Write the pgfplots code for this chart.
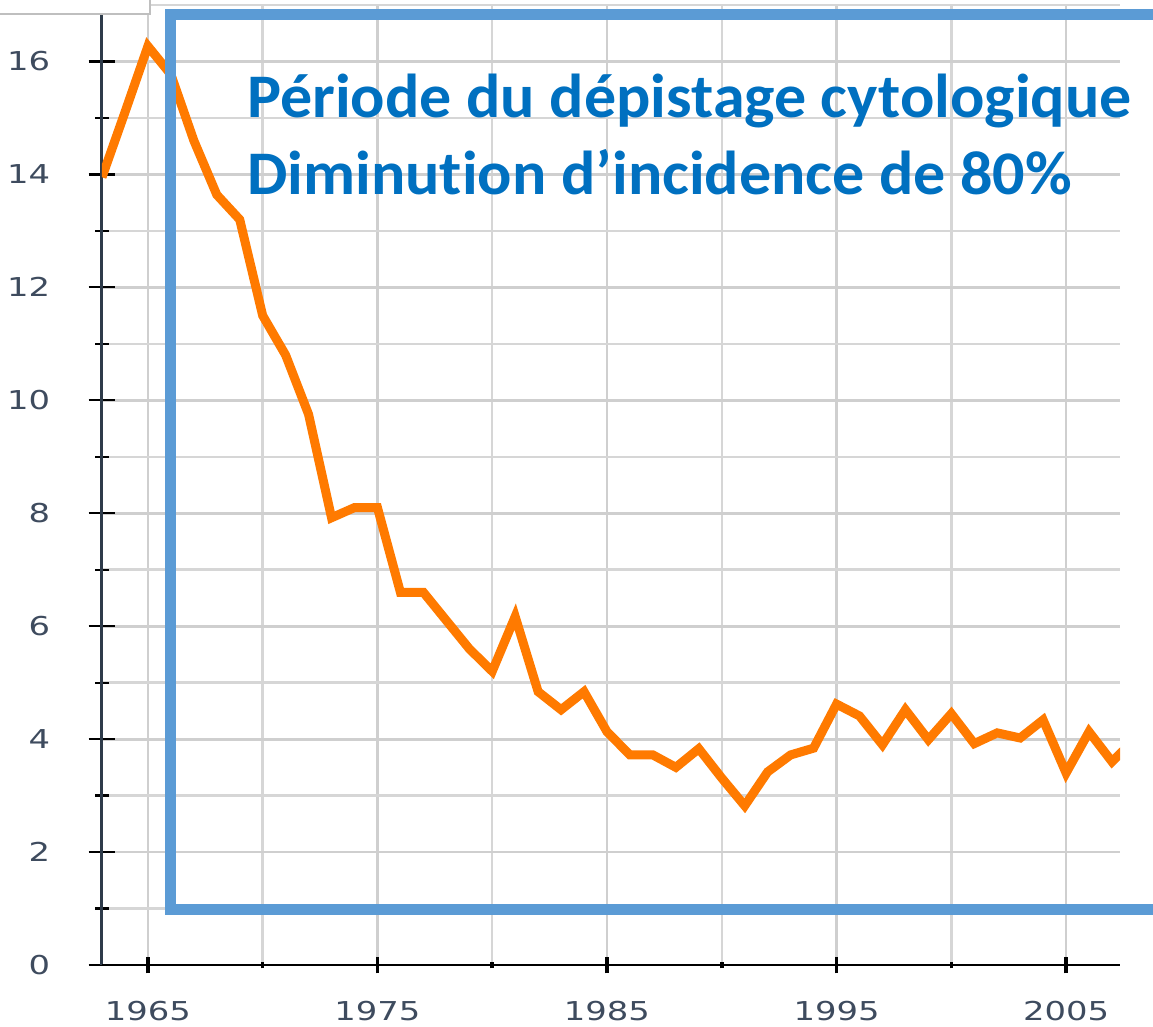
\documentclass[border=0pt]{standalone}
\usepackage{pgfplots}
\pgfplotsset{compat=1.18}
\usepackage{fontspec}
\setmainfont{DejaVu Sans}
\newfontfamily\carlito[Ligatures={NoCommon}]{Carlito}
\definecolor{lineorange}{HTML}{FF7A00}
\definecolor{boxblue}{HTML}{5B9BD5}
\definecolor{textblue}{HTML}{0070C0}
\definecolor{ticklab}{HTML}{3E4B5E}
\definecolor{axisdark}{HTML}{2E3B4A}
\pgfplotsset{
  common/.style={at={(0,0)}, anchor=south west, scale only axis,
    width=1018pt, height=960pt,
    xmin=1963, xmax=2007.35, ymin=0, ymax=17,
    xtick={1965,1975,1985,1995,2005},
    minor xtick={1970,1980,1990,2000},
    tick align=outside,
    /pgf/number format/.cd, 1000 sep={}, assume math mode=true,
    /pgfplots/.cd,
    tick label style={font=\fontsize{26}{26}\selectfont, text=ticklab, inner sep=0pt},
  }
}
\begin{document}
\begin{tikzpicture}[x=1pt,y=1pt]
\useasboundingbox (-102,-62) rectangle (1051,965);
\clip (-102,-62) rectangle (1051,965);
% main axis: grid, y axis, data
\begin{axis}[common,
  axis x line=bottom, axis y line=left,
  x axis line style={draw=none},
  y axis line style={-, axisdark, line width=3pt},
  xtick style={draw=none},
  xticklabels={},
  ytick={0,2,...,16},
  minor ytick={1,3,...,17},
  major tick length=27pt, minor tick length=14pt,
  ytick style={black, line width=2.2pt},
  minor tick style={line width=1.6pt},
  grid=both,
  major grid style={draw=gray!38, line width=2.8pt},
  minor grid style={draw=gray!32, line width=2.4pt},
  yticklabel style={anchor=east, xshift=-38.2pt, xscale=1.3},
]
\addplot[lineorange, line width=9pt, mark=none] table {
1963 13.95
1964 15.1
1965 16.27
1966 15.77
1967 14.6
1968 13.64
1969 13.2
1970 11.5
1971 10.8
1972 9.75
1973 7.92
1974 8.1
1975 8.1
1976 6.6
1977 6.6
1978 6.1
1979 5.6
1980 5.2
1981 6.17
1982 4.84
1983 4.52
1984 4.84
1985 4.13
1986 3.72
1987 3.72
1988 3.5
1989 3.83
1990 3.31
1991 2.82
1992 3.42
1993 3.72
1994 3.84
1995 4.62
1996 4.41
1997 3.9
1998 4.52
1999 3.99
2000 4.45
2001 3.92
2002 4.11
2003 4.02
2004 4.34
2005 3.4
2006 4.13
2007 3.6
2008 4.0
};
\end{axis}
% overlay axis: x axis line, x ticks and labels
\begin{axis}[common,
  axis x line=bottom, axis y line=none,
  x axis line style={-, black, line width=2.5pt},
  ytick=\empty,
  major tick length=17pt, minor tick length=7pt,
  xtick style={black, line width=3.5pt},
  minor tick style={line width=1.8pt},
  xticklabel style={anchor=north, yshift=-28pt, xscale=1.3},
]
\end{axis}
\draw[boxblue, line width=11pt] (68,55) rectangle (1130,950);
\node[anchor=base west, text=textblue, font=\carlito\bfseries\fontsize{62}{62}\selectfont, inner sep=0pt, xscale=1.033] at (145,847) {Période du dépistage cytologique};
\node[anchor=base west, text=textblue, font=\carlito\bfseries\fontsize{62}{62}\selectfont, inner sep=0pt, xscale=1.033] at (145,770) {Diminution d’incidence de 80\%};
\filldraw[fill=white, draw=gray!50, line width=1.5pt] (-110,951) rectangle (48,975);
\end{tikzpicture}
\end{document}
